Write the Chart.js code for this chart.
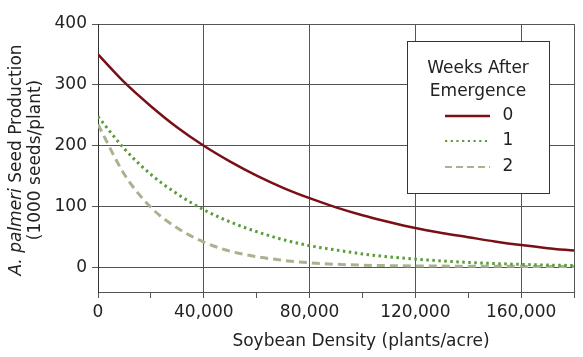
<!DOCTYPE html>
<html><head><meta charset="utf-8">
<script src="https://cdn.jsdelivr.net/npm/chart.js@4.4.1/dist/chart.umd.min.js"></script>
<style>html,body{margin:0;padding:0;background:#fff}#wrap{width:583px;height:357px;position:relative}</style>
</head><body><div id="wrap"><canvas id="c"></canvas></div>
<script>
// Soybean density (plants/acre)
const densities = [0,10000,20000,30000,40000,50000,60000,70000,80000,90000,100000,110000,120000,130000,140000,150000,160000,170000,180000];
// A. palmeri seed production (1000 seeds/plant)
const week0 = [350,304,265,230,200,174,151,131,114,99,86,75,65,57,50,43,37,32,28];
const week1 = [248,195,153,121,95,75,59,46,36,29,22.5,17.7,14,11,8.6,6.8,5.3,4.2,3.5];
const week2 = [235,153,99,65,42,27,18,12,8,5.5,4,3.3,2.8,2.5,2.3,2.2,2.1,2,2];
const seriesLabels = ['0','1','2'];
const legendTitle = ['Weeks After', 'Emergence'];
const xTitle = 'Soybean Density (plants/acre)';
const yTitleItalic = 'A. palmeri';
const yTitleRest = ' Seed Production';
const yTitle2 = '(1000 seeds/plant)';

const FONT = '"DejaVu Sans"';
const gridCol = '#555555';

const titlePlugin = {
  id: 'titles',
  afterDraw(chart) {
    const ctx = chart.ctx, a = chart.chartArea;
    ctx.save();
    ctx.fillStyle = '#222';
    ctx.textBaseline = 'middle';
    // x title
    ctx.font = '17px ' + FONT;
    ctx.textAlign = 'center';
    ctx.fillText(xTitle, 361, 342);
    // y title
    const cy = (a.top + a.bottom) / 2 + 2;
    ctx.translate(17, cy);
    ctx.rotate(-Math.PI/2);
    ctx.font = 'italic 17px ' + FONT;
    const w1 = ctx.measureText(yTitleItalic).width;
    ctx.font = '17px ' + FONT;
    const w2 = ctx.measureText(yTitleRest).width;
    let x = -(w1 + w2)/2;
    ctx.textAlign = 'left';
    ctx.font = 'italic 17px ' + FONT;
    ctx.fillText(yTitleItalic, x, 0);
    ctx.font = '17px ' + FONT;
    ctx.fillText(yTitleRest, x + w1, 0);
    ctx.textAlign = 'center';
    ctx.fillText(yTitle2, 0, 19);
    ctx.restore();
  }
};

const legendPlugin = {
  id: 'boxlegend',
  afterDraw(chart) {
    const ctx = chart.ctx;
    const bx = 407, by = 41, bw = 142, bh = 152;
    ctx.save();
    ctx.fillStyle = '#fff';
    ctx.fillRect(bx, by, bw, bh);
    ctx.strokeStyle = '#333';
    ctx.lineWidth = 1;
    ctx.strokeRect(bx + 0.5, by + 0.5, bw, bh);
    ctx.fillStyle = '#222';
    ctx.font = '17px ' + FONT;
    ctx.textAlign = 'center';
    ctx.textBaseline = 'middle';
    ctx.fillText(legendTitle[0], bx + bw/2, by + 28);
    ctx.fillText(legendTitle[1], bx + bw/2, by + 51);
    const rows = [by + 75, by + 100, by + 126];
    chart.data.datasets.forEach((ds, i) => {
      const y = rows[i];
      ctx.strokeStyle = ds.borderColor;
      ctx.lineWidth = i === 0 ? 2.5 : 2.2;
      ctx.lineCap = 'butt';
      ctx.setLineDash(i === 0 ? [] : (i === 1 ? [2.2, 3.5] : [7, 4]));
      ctx.beginPath();
      ctx.moveTo(bx + 38, y);
      ctx.lineTo(bx + 83, y);
      ctx.stroke();
      ctx.setLineDash([]);
      ctx.fillStyle = '#222';
      ctx.textAlign = 'center';
      ctx.font = '17px ' + FONT;
      ctx.fillText(ds.label, bx + 101, y);
    });
    ctx.restore();
  }
};

const mk = arr => densities.map((d, i) => ({x: d, y: arr[i]}));

new Chart(document.getElementById('c'), {
  type: 'line',
  data: {
    datasets: [
      {label: seriesLabels[0], data: mk(week0), borderColor: '#7a1016', borderWidth: 2.5, pointRadius: 0, cubicInterpolationMode: 'monotone', fill: false},
      {label: seriesLabels[1], data: mk(week1), borderColor: '#5a9b3a', borderWidth: 3, borderDash: [2.5, 3.5], pointRadius: 0, cubicInterpolationMode: 'monotone', fill: false},
      {label: seriesLabels[2], data: mk(week2), borderColor: '#a8b390', borderWidth: 3, borderDash: [8, 5], pointRadius: 0, cubicInterpolationMode: 'monotone', fill: false}
    ]
  },
  options: {
    responsive: true,
    maintainAspectRatio: false,
    animation: false,
    layout: {padding: {top: 24, right: 9, left: 0, bottom: 0}},
    plugins: {legend: {display: false}, tooltip: {enabled: false}},
    scales: {
      x: {
        type: 'linear', min: 0, max: 180000,
        ticks: {stepSize: 20000, autoSkip: false, maxRotation: 0, color: '#222', font: {family: FONT, size: 17}, padding: 4,
          callback: v => (v % 40000 === 0) ? v.toLocaleString('en-US') : ''},
        grid: {color: c => (c.tick && (c.tick.value % 40000 === 0 || c.tick.value === 180000)) ? gridCol : 'rgba(0,0,0,0)', tickColor: gridCol, tickLength: 6, lineWidth: 1},
        border: {display: true, color: gridCol, width: 1},
        title: {display: false},
        afterFit: s => { s.height = 65; }
      },
      y: {
        min: -40, max: 400,
        afterBuildTicks: s => { s.ticks = [0,100,200,300,400].map(v => ({value: v})); },
        ticks: {color: '#222', font: {family: FONT, size: 17}, padding: 5},
        grid: {color: gridCol, tickColor: gridCol, tickLength: 6, lineWidth: 1},
        border: {display: true, color: '#333', width: 1},
        afterFit: s => { s.width = 98; }
      }
    }
  },
  plugins: [titlePlugin, legendPlugin]
});
</script></body></html>
